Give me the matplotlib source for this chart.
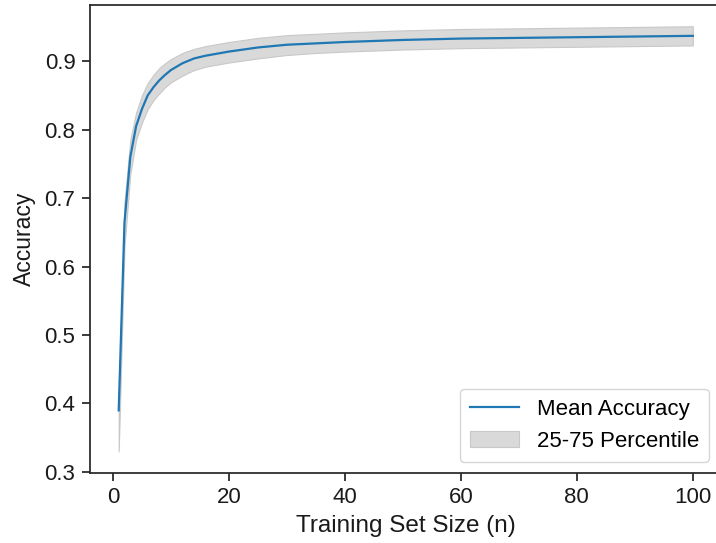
import matplotlib.pyplot as plt

plt.rcParams['font.family'] = ['Liberation Sans', 'DejaVu Sans']

# Training set sizes and accuracy
n_values = [1, 2, 3, 4, 5, 6, 7, 8, 9, 10, 12, 14, 16, 18, 20, 25, 30, 35, 40,
            50, 60, 70, 80, 90, 100]
mean_acc = [0.39, 0.665, 0.76, 0.805, 0.83, 0.85, 0.862, 0.872, 0.88, 0.887,
            0.897, 0.904, 0.908, 0.911, 0.914, 0.92, 0.924, 0.926, 0.928,
            0.931, 0.933, 0.934, 0.935, 0.936, 0.937]
p25 = [0.33, 0.63, 0.735, 0.785, 0.81, 0.83, 0.843, 0.853, 0.862, 0.869,
       0.879, 0.887, 0.892, 0.895, 0.898, 0.904, 0.909, 0.912, 0.914,
       0.917, 0.919, 0.92, 0.921, 0.922, 0.923]
p75 = [0.40, 0.695, 0.785, 0.825, 0.85, 0.868, 0.88, 0.89, 0.897, 0.903,
       0.912, 0.918, 0.922, 0.925, 0.928, 0.934, 0.938, 0.94, 0.942,
       0.945, 0.947, 0.948, 0.949, 0.95, 0.951]

fig = plt.figure(figsize=(7.16, 5.43), dpi=100)
# right spine falls just outside the picture, as in the reference
ax = fig.add_axes([0.1257, 0.1295, 0.882, 0.8613])

line, = ax.plot(n_values, mean_acc, color='#1f77b4', linewidth=1.6, label='Mean Accuracy', zorder=3)
band = ax.fill_between(n_values, p25, p75, color='#d9d9d9', edgecolor='#c8c8c8',
                       linewidth=0.8, label='25-75 Percentile', zorder=2)

ax.set_xlabel('Training Set Size (n)', fontsize=17.5, color='#1a1a1a', labelpad=5)
ax.set_ylabel('Accuracy', fontsize=16.5, color='#1a1a1a', labelpad=6)
ax.tick_params(labelsize=16, colors='#1a1a1a', length=6, width=1.2, pad=4.5)
ax.set_xticks([0, 20, 40, 60, 80, 100])
ax.set_yticks([0.3, 0.4, 0.5, 0.6, 0.7, 0.8, 0.9])
for s in ax.spines.values():
    s.set_linewidth(1.25)
    s.set_color('#262626')

ax.legend(handles=[line, band], loc='lower right', bbox_to_anchor=(0.98, 0.023),
          borderaxespad=0, fontsize=16, frameon=True, edgecolor='#cccccc',
          borderpad=0.45, handlelength=2.2)

plt.savefig('out.png', dpi=100)
